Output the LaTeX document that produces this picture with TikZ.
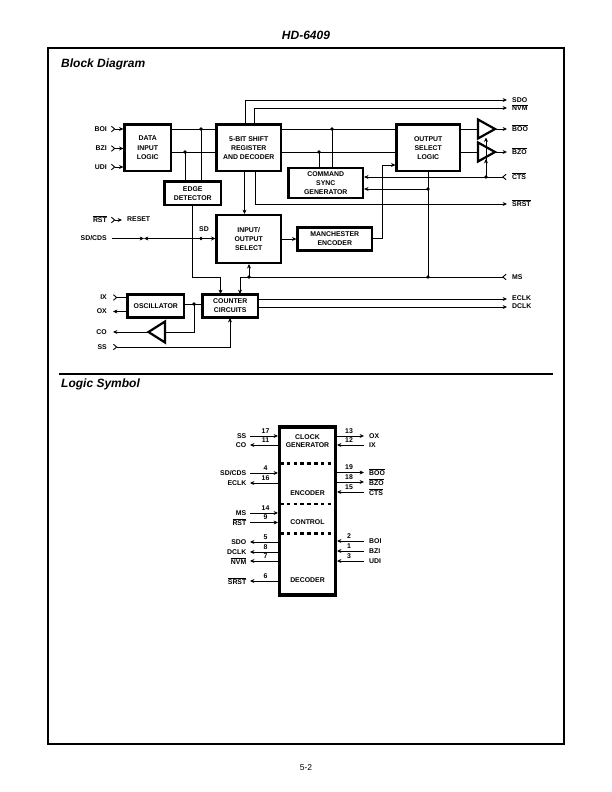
\documentclass[tikz,border=0pt]{standalone}
\usepackage{fontspec}
\setmainfont{Liberation Sans}
\usetikzlibrary{arrows.meta}
\newcommand{\ovl}[1]{$\overline{\hbox{#1}}$}
\tikzset{
  x=1pt,y=-1pt,
  sig/.style={line width=0.95pt,line cap=butt},
  arr/.style={sig,-{Stealth[length=4.4pt,width=4pt]}},
  inp/.style={sig,{Straight Barb[reversed,length=3.2pt,width=5.5pt,line width=.9pt]}-},
  inarr/.style={sig,{Straight Barb[reversed,length=3.2pt,width=5.5pt,line width=.9pt]}-{Stealth[length=4.4pt,width=4pt]}},
  dot/.style={circle,fill=black,inner sep=0pt,minimum size=3.6pt},
  blockbox/.style={draw,line width=2.2pt,align=center,font=\bfseries\fontsize{6.9}{9.1}\selectfont,inner sep=0pt},
  pinr/.style={anchor=west,inner sep=0pt,font=\bfseries\fontsize{6.9}{8}\selectfont},
  pinl/.style={anchor=east,inner sep=0pt,font=\bfseries\fontsize{6.9}{8}\selectfont},
  pinc/.style={anchor=center,inner sep=0pt,font=\bfseries\fontsize{6.9}{8}\selectfont},
  tribox/.style={draw,line width=2.2pt,line join=miter},
  head/.style={anchor=west,inner sep=0pt,font=\bfseries\itshape\fontsize{12}{14}\selectfont},
}
% name, x1, y1, x2, y2, text
\newcommand{\blk}[6]{\node[blockbox,minimum width=#4pt-#2pt-1pt,minimum height=#5pt-#3pt-1pt] (#1) at ({(#2+#4)/2},{(#3+#5)/2}) {#6};}
\begin{document}
\begin{tikzpicture}
\useasboundingbox (0,0) rectangle (612,792);
\node[inner sep=0pt,font=\bfseries\itshape\fontsize{12}{14}\selectfont] (title) at (306,35) {HD-6409};
\node[inner sep=0pt,font=\fontsize{8.5}{10}\selectfont] (page) at (306,768) {5-2};
\draw[line width=1.9pt] (48,48) rectangle (564,744);
\draw[line width=1.9pt] (59,374) -- (553,374);
\node[head] (h1) at (61,64.5) {Block Diagram};
\node[head] (h2) at (61,384.5) {Logic Symbol};

% ---------- block diagram blocks
\blk{dil}{124}{124}{171.5}{171.5}{DATA\\INPUT\\LOGIC}
\blk{shift}{216}{124}{281.5}{171.5}{5-BIT SHIFT\\REGISTER\\AND DECODER}
\blk{edge}{164}{181}{221.5}{205.5}{EDGE\\DETECTOR}
\blk{csg}{288}{167.5}{363.5}{198.5}{COMMAND\\SYNC\\GENERATOR}
\blk{osl}{396}{124}{460.5}{171.5}{OUTPUT\\SELECT\\LOGIC}
\blk{ios}{216}{214.5}{281.5}{263.5}{INPUT/\\OUTPUT\\SELECT}
\blk{man}{297}{227}{372.5}{251}{MANCHESTER\\ENCODER}
\blk{osc}{127}{294}{184.5}{318}{OSCILLATOR}
\blk{cnt}{202}{294}{258.5}{318}{COUNTER\\CIRCUITS}

% ---------- pin labels
\node[pinr] (sdo) at (512,100) {SDO};
\node[pinr] (nvm) at (512,107.5) {\ovl{NVM}};
\node[pinr] (boo) at (512,128.5) {\ovl{BOO}};
\node[pinr] (bzo) at (512,151.5) {\ovl{BZO}};
\node[pinr] (cts) at (512,176.5) {\ovl{CTS}};
\node[pinr] (srst) at (512,203.5) {\ovl{SRST}};
\node[pinr] (ms) at (512,277) {MS};
\node[pinr] (eclk) at (512,298) {ECLK};
\node[pinr] (dclk) at (512,306) {DCLK};
\node[pinl] (boi) at (107,129.5) {BOI};
\node[pinl] (bzi) at (107,148.5) {BZI};
\node[pinl] (udi) at (107,167) {UDI};
\node[pinl] (rst) at (107,219.5) {\ovl{RST}};
\node[pinr] (reset) at (127,219.5) {RESET};
\node[pinl] (sdcds) at (107,238.5) {SD/CDS};
\node[pinc] (sd) at (204,229.5) {SD};
\node[pinl] (ix) at (107,297.5) {IX};
\node[pinl] (ox) at (107,311.5) {OX};
\node[pinl] (co) at (107,332) {CO};
\node[pinl] (ss) at (107,347) {SS};

% ---------- junctions and free ends
\foreach \n/\x/\y in {
  j1/201/129, j2/185/152, j3/332/129, j4/319/152, jcts/486/177, jsel/428/189,
  jms/428/277, jmsb/249/277, jsd/201/238.5, josc/194/304}
  {\coordinate (\n) at (\x,\y);}
\foreach \n/\x/\y in {
  esdo/507/100, envm/507/108, eboo/507/129, ebzo/507/152, ects/506.5/177, esrst/507/204,
  ems/506.5/277, eeclk/507/299, edclk/507/307,
  sboi/111/129, sbzi/111/148.5, sudi/111/167, srstin/111/220, ereset/122/220,
  ssd/112/238.5, six/113/297.5, eox/113/311.5, eco/113/332, sss/113/347,
  bow/144/238.5, ta/478/129, tb/478/152, tac/495/129, tbc/495/152}
  {\coordinate (\n) at (\x,\y);}

% triangles
\draw[tribox] (478,119.5) -- (495,129) -- (478,138.5) -- cycle;
\draw[tribox] (478,142.5) -- (495,152) -- (478,161.5) -- cycle;
\draw[tribox] (148.5,332) -- (165,321.5) -- (165,342.5) -- cycle;
\coordinate (tcb) at (165,332);
\coordinate (tca) at (148.5,332);

% ---------- connectors
\draw[arr] (245,124) -- (245,100) -- (esdo);
\draw[arr] (254.5,124) -- (254.5,108) -- (envm);
\draw[sig] (dil.east |- j1) -- (shift.west |- j1);
\draw[sig] (dil.east |- j2) -- (shift.west |- j2);
\draw[sig] (j1) -- (j1 |- edge.north);
\draw[sig] (j2) -- (j2 |- edge.north);
\draw[sig] (shift.east |- j3) -- (osl.west |- j3);
\draw[sig] (shift.east |- j4) -- (osl.west |- j4);
\draw[sig] (j3) -- (j3 |- csg.north);
\draw[sig] (j4) -- (j4 |- csg.north);
\draw[sig] (osl.east |- ta) -- (ta);
\draw[sig] (osl.east |- tb) -- (tb);
\draw[arr] (tac) -- (eboo);
\draw[arr] (tbc) -- (ebzo);
\draw[inarr] (ects) -- (csg.east |- ects);
\draw[arr] (jcts) -- (486,137.5);
\draw[arr] (jcts) -- (486,159);
\draw[arr] (jsel) -- (csg.east |- jsel);
\draw[sig] (osl.south -| jsel) -- (jms);
\draw[arr] (244.5,171) -- (244.5,214);
\draw[arr] (255,171) -- (255,204) -- (esrst);
\draw[arr] (man.east |- 0,238.5) -- (382,238.5) -- (382,165) -- (osl.west |- 0,165);
\draw[arr] (ios.east |- man.west) -- (man.west);
\draw[inp] (ems) -- (240,277);
\draw[arr] (240,277) -- (240,294);
\draw[arr] (jmsb) -- (ios.south -| jmsb);
\draw[arr] (192.5,205) -- (192.5,277) -- (220.5,277) -- (220.5,294);
\draw[arr] (cnt.east |- eeclk) -- (eeclk);
\draw[arr] (cnt.east |- edclk) -- (edclk);
\draw[inarr] (sboi) -- (dil.west |- sboi);
\draw[inarr] (sbzi) -- (dil.west |- sbzi);
\draw[inarr] (sudi) -- (dil.west |- sudi);
\draw[inarr] (srstin) -- (ereset);
\draw[arr] (ssd) -- (bow);
\draw[arr] (jsd) -- (bow);
\draw[arr] (jsd) -- (ios.west |- jsd);
\draw[inp] (six) -- (osc.west |- six);
\draw[arr] (osc.west |- eox) -- (eox);
\draw[sig] (osc.east |- josc) -- (cnt.west |- josc);
\draw[sig] (josc) -- (194,332) -- (tcb);
\draw[arr] (tca) -- (eco);
\draw[inarr] (sss) -- (230,347) -- (230,318);

\foreach \j in {j1,j2,j3,j4,jcts,jsel,jms,jmsb,josc,jsd}
  \node[dot] at (\j) {};

% ---------- logic symbol
\node[draw,line width=3.4pt,minimum width=55.6pt,minimum height=168.3pt,inner sep=0pt] (ic) at (307.5,511) {};
\foreach \yy in {463.5,504,533.5}
  \draw[line width=2.4pt,dash pattern=on 3.6pt off 3.2pt] (280,\yy) -- (336,\yy);
\node[pinc,align=center,font=\bfseries\fontsize{6.9}{8}\selectfont] (lc1) at (307.5,441) {CLOCK\\GENERATOR};
\node[pinc] (lc2) at (307.5,493) {ENCODER};
\node[pinc] (lc3) at (307.5,522) {CONTROL};
\node[pinc] (lc4) at (307.5,580) {DECODER};

% left pins: name / text / y / number / direction
\foreach \nm/\txt/\yy/\num/\st in {
  a1/SS/436/17/in, a2/CO/445/11/out, a3/SD\slash CDS/473/4/in, a4/ECLK/483/16/out,
  a5/MS/513/14/in, a6/\ovl{RST}/522.5/9/in, a7/SDO/542/5/out, a8/DCLK/552/8/out,
  a9/\ovl{NVM}/561/7/out, a10/\ovl{SRST}/581/6/out}{
  \node[pinl] (\nm) at (246.5,\yy) {\txt};
  \node[pinc] (n\nm) at (265.5,\yy-5) {\num};
  \coordinate (f\nm) at (250,\yy);
  \ifnum\pdfstrcmp{\st}{in}=0
    \draw[arr] (f\nm) -- (ic.west |- f\nm);
  \else
    \draw[arr] (ic.west |- f\nm) -- (f\nm);
  \fi
}
% right pins
\foreach \nm/\txt/\yy/\num/\st in {
  b1/OX/436/13/out, b2/IX/445/12/in, b3/\ovl{BOO}/472.5/19/out, b4/\ovl{BZO}/482/18/out,
  b5/\ovl{CTS}/492/15/in, b6/BOI/541/2/in, b7/BZI/551/1/in, b8/UDI/561/3/in}{
  \node[pinr] (\nm) at (369,\yy) {\txt};
  \node[pinc] (n\nm) at (349,\yy-5) {\num};
  \coordinate (f\nm) at (364,\yy);
  \ifnum\pdfstrcmp{\st}{in}=0
    \draw[arr] (f\nm) -- (ic.east |- f\nm);
  \else
    \draw[arr] (ic.east |- f\nm) -- (f\nm);
  \fi
}
\end{tikzpicture}
\end{document}
